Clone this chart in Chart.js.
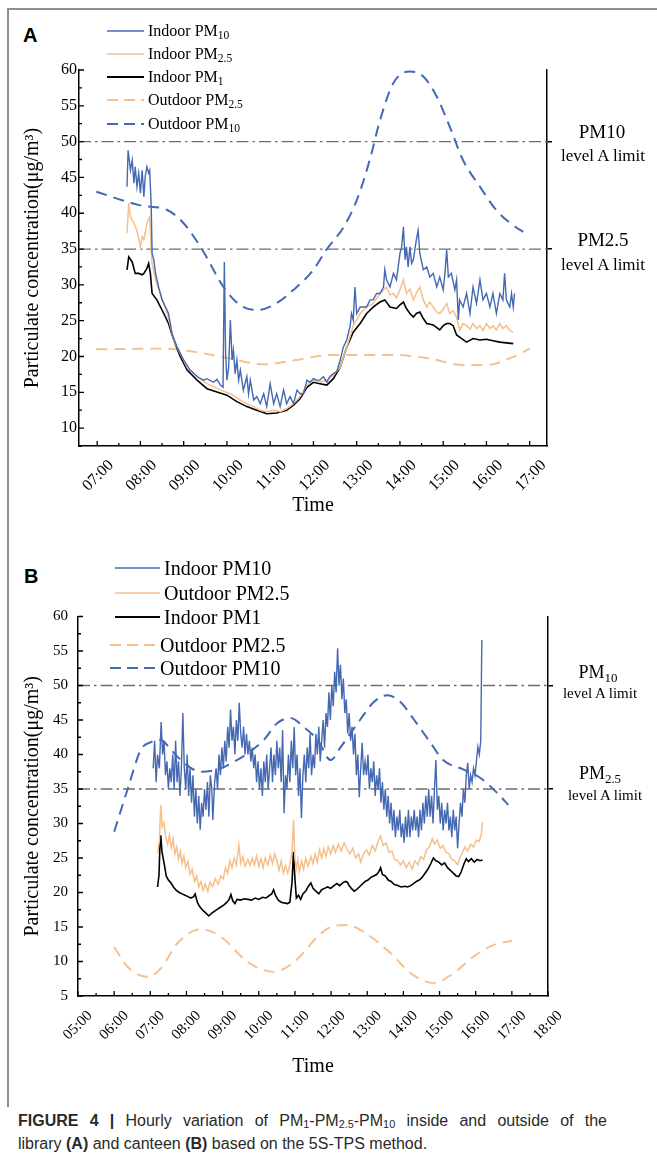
<!DOCTYPE html>
<html>
<head>
<meta charset="utf-8">
<script src="https://cdn.jsdelivr.net/npm/chart.js@4.4.1/dist/chart.umd.min.js"></script>
<style>
  body { margin: 0; background: #fff; }
  #page { position: relative; width: 657px; height: 1161px; overflow: hidden; font-family: 'Liberation Serif', 'Times New Roman', serif; color: #000; }
  .frame { position: absolute; left: 7px; top: 8px; width: 700px; height: 1097px; border-left: 2px solid #8e8e8e; border-top: 2px solid #8e8e8e; }
  .wrap { position: absolute; left: 0; width: 657px; }
  .panel { position: absolute; font: bold 20px 'Liberation Sans', Arial, sans-serif; line-height: 20px; }
  .lrow { position: absolute; display: flex; align-items: center; white-space: nowrap; line-height: 1; }
  .lrow svg { flex: none; }
  .side { position: absolute; width: 120px; text-align: center; white-space: nowrap; line-height: 1; }
  sub { font-size: 0.72em; vertical-align: -0.28em; line-height: 0; }
  .caption { position: absolute; left: 18px; width: 589px; font-family: 'Liberation Sans Narrow', 'Liberation Sans', Arial, sans-serif; font-size: 16px; line-height: 23px; color: #2a2a2a; white-space: nowrap; }
  .caption.l1 { top: 1109px; text-align: justify; text-align-last: justify; }
  .caption.l2 { top: 1132px; }
  .caption sub { font-size: 0.68em; vertical-align: -0.2em; }
</style>
</head>
<body>
<div id="page">
  <div class="frame"></div>
  <div class="panel" style="left:23px; top:25px;">A</div>
  <div class="panel" style="left:24px; top:566px;">B</div>
  <div class="wrap" style="top:0; height:530px;"><canvas id="chartA"></canvas></div>
  <div class="wrap" style="top:530px; height:560px;"><canvas id="chartB"></canvas></div>
  <div id="legendA"></div>
  <div id="legendB"></div>
  <div class="side" style="left:542px; top:122px; font-size:19px;">PM10</div>
  <div class="side" style="left:543px; top:147px; font-size:17px;">level A limit</div>
  <div class="side" style="left:543px; top:230px; font-size:19px;">PM2.5</div>
  <div class="side" style="left:543px; top:256px; font-size:17px;">level A limit</div>
  <div class="side" style="left:538px; top:663px; font-size:18px;">PM<sub>10</sub></div>
  <div class="side" style="left:540px; top:686px; font-size:15px;">level A limit</div>
  <div class="side" style="left:540px; top:764px; font-size:18px;">PM<sub>2.5</sub></div>
  <div class="side" style="left:545px; top:788px; font-size:15px;">level A limit</div>
  <div class="caption l1"><b>FIGURE 4 |</b> Hourly variation of PM<sub>1</sub>-PM<sub>2.5</sub>-PM<sub>10</sub> inside and outside of the</div>
  <div class="caption l2">library <b>(A)</b> and canteen <b>(B)</b> based on the 5S-TPS method.</div>
</div>
<script>
// ---- panel A (library) : [hour, µg/m3] ----
const indoorPM10A = [[7.69,43.7],[7.715,48.8],[7.77,46.0],[7.81,47.4],[7.85,44.2],[7.88,46.5],[7.92,43.7],[7.96,45.6],[8.00,42.8],[8.04,46.0],[8.08,42.3],[8.11,45.1],[8.15,46.5],[8.19,45.6],[8.215,46.0],[8.25,40.9],[8.27,34.4],[8.31,33.5],[8.35,31.6],[8.42,29.7],[8.50,27.9],[8.58,26.9],[8.65,26.0],[8.73,23.2],[8.85,21.3],[9.00,19.5],[9.15,18.1],[9.31,17.2],[9.46,16.7],[9.54,16.9],[9.69,16.4],[9.77,16.8],[9.85,16.0],[9.91,15.7],[9.94,33.2],[9.97,20.4],[10.00,16.7],[10.04,18.5],[10.08,25.1],[10.12,19.5],[10.15,20.9],[10.19,17.6],[10.23,19.5],[10.27,16.7],[10.31,18.1],[10.38,15.3],[10.46,17.2],[10.50,14.8],[10.54,16.7],[10.62,13.9],[10.69,14.4],[10.77,13.4],[10.85,14.8],[10.92,13.0],[11.00,16.2],[11.08,13.4],[11.15,14.8],[11.23,13.0],[11.31,15.3],[11.38,13.4],[11.46,14.4],[11.54,13.4],[11.62,15.3],[11.69,14.8],[11.77,14.8],[11.85,16.7],[11.92,16.4],[12.00,16.9],[12.08,16.7],[12.15,16.7],[12.23,17.2],[12.31,16.4],[12.38,17.2],[12.46,17.6],[12.54,17.9],[12.62,19.5],[12.69,21.3],[12.77,22.3],[12.85,24.3],[12.88,26.0],[12.92,25.1],[12.96,29.7],[13.00,26.0],[13.08,26.9],[13.15,26.9],[13.23,26.9],[13.31,27.9],[13.38,27.9],[13.46,28.8],[13.54,28.8],[13.62,29.7],[13.65,32.1],[13.69,30.7],[13.77,29.7],[13.85,31.6],[13.92,30.7],[13.96,32.5],[14.00,34.4],[14.04,35.3],[14.08,38.1],[14.12,33.5],[14.15,35.3],[14.19,32.5],[14.23,35.3],[14.27,33.0],[14.31,33.5],[14.38,36.3],[14.42,37.6],[14.46,34.4],[14.54,32.1],[14.62,32.5],[14.69,31.1],[14.77,31.6],[14.85,29.7],[14.92,31.1],[15.00,29.3],[15.04,31.6],[15.08,34.9],[15.12,31.1],[15.19,31.6],[15.27,29.3],[15.31,30.7],[15.35,25.1],[15.38,27.9],[15.46,26.9],[15.54,28.8],[15.62,26.0],[15.69,29.7],[15.77,27.4],[15.85,30.7],[15.92,27.9],[16.00,28.8],[16.08,26.9],[16.15,28.8],[16.23,26.0],[16.31,28.8],[16.38,27.9],[16.42,31.6],[16.46,27.9],[16.54,26.9],[16.58,28.8],[16.62,26.9],[16.65,28.8]];
const indoorPM25A = [[7.69,37.2],[7.73,41.4],[7.77,39.5],[7.85,38.6],[7.92,37.6],[8.00,35.3],[8.04,36.7],[8.08,36.3],[8.15,38.6],[8.215,39.5],[8.25,34.9],[8.27,33.0],[8.35,30.7],[8.46,28.8],[8.62,26.0],[8.77,22.3],[8.92,20.4],[9.08,18.5],[9.31,17.2],[9.54,16.2],[9.85,15.3],[10.08,14.8],[10.31,13.9],[10.46,13.4],[10.62,13.0],[10.77,12.5],[10.92,12.3],[11.08,12.5],[11.23,12.3],[11.38,12.7],[11.54,13.4],[11.69,14.4],[11.85,16.0],[12.00,16.7],[12.15,16.4],[12.31,16.7],[12.46,17.4],[12.62,18.5],[12.77,21.3],[12.92,24.3],[13.08,26.0],[13.23,26.9],[13.38,27.4],[13.54,28.8],[13.69,29.7],[13.77,28.6],[13.85,28.8],[13.92,28.2],[14.00,29.3],[14.08,30.7],[14.15,28.8],[14.23,29.4],[14.31,27.9],[14.38,28.8],[14.46,29.7],[14.54,27.9],[14.62,26.9],[14.69,27.6],[14.77,26.9],[14.85,26.2],[14.92,26.0],[15.00,26.6],[15.08,27.4],[15.15,26.0],[15.23,26.4],[15.31,25.5],[15.38,23.7],[15.46,24.6],[15.54,24.3],[15.62,23.8],[15.69,24.6],[15.77,23.9],[15.85,24.3],[15.92,23.6],[16.00,24.6],[16.08,23.9],[16.15,24.3],[16.23,23.7],[16.31,24.6],[16.38,23.9],[16.46,24.3],[16.54,23.6],[16.62,23.4]];
const indoorPM1A = [[7.69,32.1],[7.73,33.9],[7.81,33.2],[7.88,31.6],[7.96,31.6],[8.04,31.4],[8.08,31.6],[8.15,32.3],[8.19,33.0],[8.23,31.6],[8.27,28.8],[8.38,27.9],[8.54,26.0],[8.65,24.6],[8.77,22.3],[8.92,20.0],[9.08,18.1],[9.31,16.7],[9.54,15.5],[9.77,15.05],[10.00,14.6],[10.23,13.7],[10.46,13.0],[10.69,12.5],[10.92,12.0],[11.15,12.1],[11.38,12.5],[11.54,13.2],[11.69,14.1],[11.85,15.7],[12.00,16.4],[12.15,16.2],[12.31,16.0],[12.46,16.9],[12.62,18.5],[12.77,21.3],[12.92,23.4],[13.08,24.6],[13.23,26.0],[13.38,26.9],[13.54,27.6],[13.65,27.9],[13.77,26.9],[13.92,26.7],[14.00,27.2],[14.08,27.6],[14.15,26.7],[14.23,26.0],[14.31,25.5],[14.38,26.0],[14.46,26.2],[14.54,25.3],[14.62,24.6],[14.77,24.4],[14.92,23.7],[15.00,24.3],[15.08,24.6],[15.15,24.6],[15.23,24.3],[15.31,23.0],[15.38,22.7],[15.54,22.0],[15.69,22.5],[15.85,22.3],[16.00,22.4],[16.15,22.2],[16.31,22.0],[16.46,21.9],[16.62,21.8]];
const outdoorPM25A = [[6.98,21.0],[8.54,21.1],[9.3,20.6],[10.08,19.7],[10.85,18.9],[11.6,19.5],[12.38,20.2],[13.15,20.2],[13.9,20.2],[14.7,19.7],[15.46,18.8],[16.0,18.8],[16.6,19.9],[17.0,21.1]];
const outdoorPM10A = [[6.98,43.0],[8.0,41.1],[8.62,40.45],[9.0,38.6],[9.46,34.6],[9.92,29.7],[10.3,27.2],[10.7,26.5],[11.08,27.2],[11.54,29.3],[12.0,32.1],[12.3,34.9],[12.7,38.1],[13.0,41.8],[13.3,47.4],[13.54,53.0],[13.85,58.2],[14.23,59.8],[14.54,59.1],[14.85,56.3],[15.15,52.1],[15.46,47.4],[15.85,43.7],[16.23,40.4],[16.6,38.4],[16.85,37.4]];
const xLabelsA = ['07:00','08:00','09:00','10:00','11:00','12:00','13:00','14:00','15:00','16:00','17:00'];
const yTicksA = [10, 15, 20, 25, 30, 35, 40, 45, 50, 55, 60];

// ---- panel B (canteen) ----
const indoorPM10B = [[7.08,38],[7.12,42],[7.16,36],[7.2,40],[7.25,38],[7.3,44.7],[7.34,40],[7.38,42],[7.42,37],[7.46,39],[7.5,35],[7.54,38],[7.58,36],[7.62,40],[7.66,35],[7.7,42],[7.74,36],[7.78,39],[7.82,34],[7.86,38],[7.9,46],[7.94,38],[7.98,35],[8.02,40],[8.06,34],[8.1,38],[8.14,33],[8.18,37],[8.22,31],[8.26,35],[8.3,30],[8.34,34],[8.38,29.1],[8.42,33],[8.46,31],[8.5,35],[8.54,32],[8.58,36],[8.62,31],[8.66,37],[8.7,35],[8.73,30.5],[8.78,36],[8.82,38],[8.86,35],[8.9,40],[8.94,37],[8.98,41],[9.02,38],[9.06,42],[9.1,39],[9.14,44],[9.18,41],[9.22,46.5],[9.26,42],[9.3,44],[9.34,40],[9.38,45],[9.42,42],[9.46,47.5],[9.5,43],[9.54,41],[9.58,44],[9.62,40],[9.66,43],[9.7,40],[9.74,42],[9.78,39],[9.82,41],[9.86,38],[9.9,40],[9.94,36],[9.98,39],[10.02,35],[10.06,38],[10.1,34],[10.14,39],[10.18,36],[10.22,40],[10.26,35],[10.3,38],[10.34,41],[10.38,36],[10.42,40],[10.46,37],[10.5,42],[10.54,38],[10.58,41],[10.62,36],[10.66,43.5],[10.7,31.5],[10.74,37],[10.78,35],[10.82,40],[10.86,36],[10.9,42],[10.94,38],[10.98,44],[11.02,37],[11.06,40],[11.1,34],[11.14,38],[11.18,30.8],[11.22,37],[11.26,40],[11.3,36],[11.34,41],[11.38,38],[11.42,43],[11.46,37],[11.5,40],[11.54,38],[11.58,43],[11.62,40],[11.66,44],[11.7,39],[11.74,42],[11.78,45],[11.82,41],[11.86,46],[11.9,44],[11.94,49],[11.98,45],[12.02,50],[12.06,47],[12.1,52],[12.14,49],[12.18,55.4],[12.22,50],[12.26,53],[12.3,48],[12.34,51],[12.38,46],[12.42,48],[12.46,43],[12.5,46],[12.54,42],[12.58,44],[12.62,40],[12.66,43],[12.7,37],[12.74,40],[12.78,33.8],[12.82,38],[12.86,41.7],[12.9,37],[12.94,39],[12.98,37],[13.02,40],[13.06,35],[13.1,38],[13.14,36],[13.18,39],[13.22,34],[13.26,37],[13.3,35],[13.34,38],[13.38,33],[13.42,36],[13.46,32],[13.5,35],[13.54,31],[13.58,34],[13.62,30],[13.66,33],[13.7,29],[13.74,32],[13.78,28],[13.82,31],[13.86,29],[13.9,32],[13.94,28],[13.98,30],[14.02,27.2],[14.06,31],[14.1,28],[14.14,32],[14.18,28],[14.22,31],[14.26,29],[14.3,32],[14.34,29],[14.38,31],[14.42,28],[14.46,32],[14.5,29],[14.54,33],[14.58,30],[14.62,34],[14.66,31],[14.7,35],[14.74,31],[14.78,34],[14.82,30],[14.86,35],[14.9,39.2],[14.94,32],[14.98,34],[15.02,30],[15.06,33],[15.1,29],[15.14,32],[15.18,30],[15.22,33],[15.26,29],[15.3,31],[15.34,28],[15.38,32],[15.42,29],[15.46,31],[15.5,26.4],[15.54,30],[15.58,33],[15.62,31],[15.66,35],[15.7,33],[15.74,37],[15.78,38.8],[15.82,35],[15.86,37],[15.9,36],[15.94,38],[15.98,37],[16.02,39],[16.06,41.1],[16.1,40],[16.14,42],[16.17,56.6]];
const indoorPM25B = [[7.2,25.7],[7.25,27.5],[7.29,32.7],[7.33,29.5],[7.38,30.1],[7.43,28.0],[7.48,27.0],[7.53,28.3],[7.58,26.5],[7.63,27.8],[7.68,25.6],[7.73,26.6],[7.78,24.8],[7.83,26.0],[7.88,24.2],[7.93,25.3],[7.98,23.6],[8.04,24.5],[8.1,22.6],[8.16,23.4],[8.22,21.6],[8.28,22.4],[8.34,20.8],[8.4,21.6],[8.46,20.3],[8.52,21.2],[8.59,20.2],[8.65,21.5],[8.72,20.8],[8.8,22.0],[8.88,21.2],[8.95,22.4],[9.02,22.0],[9.08,23.6],[9.14,22.8],[9.2,24.6],[9.26,23.6],[9.32,25.0],[9.38,24.0],[9.45,26.9],[9.5,24.2],[9.56,25.2],[9.62,23.8],[9.7,24.8],[9.76,23.9],[9.82,25.0],[9.88,24.0],[9.94,25.3],[10.0,23.8],[10.06,24.9],[10.12,23.6],[10.18,25.0],[10.25,24.0],[10.32,25.4],[10.38,24.2],[10.44,25.6],[10.5,24.6],[10.56,23.2],[10.62,24.6],[10.68,22.8],[10.74,23.9],[10.8,22.8],[10.86,24.0],[10.92,26.0],[10.96,30.5],[11.0,25.0],[11.04,23.5],[11.08,24.8],[11.12,23.0],[11.18,24.6],[11.24,23.4],[11.3,25.0],[11.36,23.8],[11.44,25.2],[11.5,24.2],[11.56,25.6],[11.62,24.4],[11.68,26.2],[11.74,25.0],[11.8,26.4],[11.86,25.2],[11.92,26.6],[11.99,25.6],[12.06,26.8],[12.12,25.8],[12.2,27.0],[12.28,26.0],[12.36,27.2],[12.45,26.2],[12.52,25.6],[12.6,26.4],[12.68,25.0],[12.76,25.6],[12.82,24.4],[12.9,25.6],[12.98,26.2],[13.06,25.4],[13.14,26.8],[13.22,26.0],[13.3,27.4],[13.37,28.2],[13.44,26.8],[13.52,27.2],[13.6,25.8],[13.68,26.0],[13.76,24.8],[13.84,24.6],[13.92,24.0],[14.0,24.6],[14.08,23.6],[14.16,24.4],[14.24,23.4],[14.32,24.6],[14.4,24.0],[14.48,25.2],[14.56,24.8],[14.64,26.2],[14.72,26.6],[14.8,27.8],[14.86,27.0],[14.94,27.6],[15.02,26.4],[15.1,26.8],[15.18,25.8],[15.26,25.6],[15.34,24.8],[15.42,24.6],[15.5,24.0],[15.56,25.0],[15.62,25.6],[15.7,26.6],[15.78,26.0],[15.86,27.0],[15.94,26.6],[16.02,27.6],[16.1,27.4],[16.15,28.4],[16.19,30.2]];
const indoorPM1B = [[7.2,20.8],[7.24,22.5],[7.27,27.5],[7.29,28.3],[7.32,26.0],[7.38,24.3],[7.44,22.4],[7.5,21.8],[7.57,21.4],[7.64,20.8],[7.72,20.3],[7.8,20.0],[7.88,19.8],[7.96,19.6],[8.04,19.4],[8.12,19.2],[8.2,19.4],[8.24,19.8],[8.3,18.6],[8.36,18.0],[8.42,17.6],[8.5,17.2],[8.56,16.9],[8.62,16.6],[8.7,17.0],[8.78,17.3],[8.86,17.6],[8.95,17.9],[9.04,18.2],[9.12,18.6],[9.18,19.0],[9.23,19.7],[9.28,18.8],[9.34,18.4],[9.4,19.0],[9.5,18.9],[9.6,19.1],[9.7,19.0],[9.8,18.9],[9.9,19.2],[10.0,19.0],[10.1,19.3],[10.2,19.2],[10.3,19.6],[10.36,19.8],[10.41,20.4],[10.46,19.6],[10.54,18.9],[10.62,18.6],[10.7,18.5],[10.8,18.4],[10.86,18.6],[10.92,21.5],[10.96,25.9],[11.0,22.0],[11.04,19.2],[11.1,19.6],[11.16,19.0],[11.22,19.8],[11.3,20.2],[11.36,20.8],[11.44,21.4],[11.5,20.6],[11.58,20.2],[11.66,19.8],[11.74,20.4],[11.82,20.6],[11.9,20.8],[11.99,20.6],[12.08,21.0],[12.16,21.3],[12.24,21.0],[12.32,21.4],[12.4,21.6],[12.45,21.5],[12.5,21.0],[12.56,20.6],[12.64,20.2],[12.7,20.4],[12.78,20.8],[12.86,21.2],[12.94,21.6],[13.02,21.8],[13.1,22.2],[13.18,22.4],[13.26,22.6],[13.32,23.0],[13.37,23.6],[13.42,22.6],[13.5,22.4],[13.58,21.8],[13.66,21.6],[13.74,21.2],[13.84,21.0],[13.94,20.8],[14.04,20.9],[14.12,20.8],[14.2,21.0],[14.28,21.3],[14.36,21.6],[14.44,21.8],[14.52,22.2],[14.6,22.8],[14.68,23.4],[14.76,24.2],[14.83,25.0],[14.9,24.6],[14.98,24.4],[15.06,24.0],[15.14,24.3],[15.22,23.6],[15.3,23.2],[15.38,22.8],[15.46,22.4],[15.53,22.3],[15.6,23.0],[15.68,24.2],[15.74,24.9],[15.8,24.5],[15.88,24.9],[15.96,24.4],[16.04,24.8],[16.12,24.6],[16.19,24.7]];
const outdoorPM25B = [[6.0,12.1],[6.38,9.2],[6.93,7.75],[7.29,9.0],[7.76,12.7],[8.4,14.7],[8.95,13.6],[9.7,9.9],[10.41,8.5],[10.97,9.9],[11.63,13.6],[11.99,15.0],[12.45,15.3],[12.9,14.3],[13.65,11.2],[14.2,8.3],[14.83,6.9],[15.39,8.3],[15.94,10.7],[16.5,12.4],[17.0,13.0]];
const outdoorPM10B = [[6.0,28.8],[6.38,35.1],[6.74,40.7],[7.02,41.8],[7.29,42.1],[7.6,40.5],[8.0,38.5],[8.4,37.5],[8.9,37.9],[9.3,38.9],[9.7,40.2],[10.14,42.1],[10.5,44.5],[10.88,45.3],[11.24,44.0],[11.63,42.1],[11.99,39.2],[12.27,41.1],[12.8,45.0],[13.18,47.6],[13.56,48.6],[13.92,47.6],[14.3,45.0],[14.75,41.7],[15.1,39.2],[15.67,37.8],[16.13,36.6],[16.6,34.4],[16.9,32.7]];
const xLabelsB = ['05:00','06:00','07:00','08:00','09:00','10:00','11:00','12:00','13:00','14:00','15:00','16:00','17:00','18:00'];
const yTicksB = [5, 10, 15, 20, 25, 30, 35, 40, 45, 50, 55, 60];

const limits = [50, 35];

const SERIF = "'Liberation Serif', 'Times New Roman', serif";
const BLUE = '#4468b2';
const PEACH = '#f6bf8c';

const pts = a => a.map(p => ({x: p[0], y: p[1]}));

// inward tick marks, like the original plot
const innerTicks = {
  id: 'innerTicks',
  afterDraw(chart) {
    const {ctx, chartArea: a, scales: {x, y}} = chart;
    ctx.save();
    ctx.strokeStyle = '#000';
    ctx.lineWidth = 1.3;
    ctx.beginPath();
    for (let v = Math.ceil(x.min * 2) / 2; v <= x.max + 1e-6; v += 0.5) {
      const px = x.getPixelForValue(v);
      const len = Number.isInteger(v) ? 5 : 3;
      ctx.moveTo(px, a.bottom);
      ctx.lineTo(px, a.bottom - len);
    }
    for (let v = Math.ceil(y.min / 2.5) * 2.5; v <= y.max + 1e-6; v += 2.5) {
      const py = y.getPixelForValue(v);
      const len = v % 5 === 0 ? 5 : 3;
      ctx.moveTo(a.left, py);
      ctx.lineTo(a.left + len, py);
    }
    ctx.stroke();
    ctx.restore();
  }
};

function fixBox(size, horizontal) {
  return s => {
    if (horizontal) s.height = size; else s.width = size;
    s.paddingLeft = s.paddingRight = s.paddingTop = s.paddingBottom = 0;
  };
}

function makeChart(id, c) {
  const line = (label, data, color, width, dash, smooth) => ({
    label, data: pts(data), borderColor: color, borderWidth: width,
    borderDash: dash || [], pointRadius: 0, fill: false,
    tension: smooth ? 0.4 : 0, cubicInterpolationMode: smooth ? 'monotone' : 'default'
  });
  const datasets = [
    line(c.labels[0], c.pm10, BLUE, 1.4),
    line(c.labels[1], c.pm25, PEACH, 1.5),
    line(c.labels[2], c.pm1, '#000', 1.6),
    line(c.labels[3], c.out25, PEACH, 1.9, [11, 7], true),
    line(c.labels[4], c.out10, BLUE, 2, [11, 7], true)
  ];
  limits.forEach(v => datasets.push({
    label: 'limit ' + v, data: [{x: c.xMin, y: v}, {x: c.xMax, y: v}],
    borderColor: '#6e6e6e', borderWidth: 1.3, borderDash: [12, 4, 2.5, 4], pointRadius: 0
  }));
  return new Chart(document.getElementById(id), {
    type: 'line',
    data: {datasets},
    options: {
      responsive: true,
      maintainAspectRatio: false,
      animation: false,
      layout: {padding: {left: 0, top: c.top, right: c.right, bottom: 0}},
      plugins: {legend: {display: false}, tooltip: {enabled: false}},
      scales: {
        x: {
          type: 'linear', min: c.xMin, max: c.xMax,
          afterFit: fixBox(c.xh, true),
          afterBuildTicks: s => { s.ticks = c.xLabels.map(l => ({value: parseInt(l, 10)})); },
          grid: {display: false, drawTicks: false},
          border: {color: '#000', width: 1.5},
          ticks: {autoSkip: false, minRotation: 45, maxRotation: 45, labelOffset: c.labelOffset, padding: c.xPad,
                  color: '#000', font: {family: SERIF, size: c.xFont}, callback: (v, i) => c.xLabels[i]},
          title: {display: true, text: 'Time', color: '#000', font: {family: SERIF, size: 20}, padding: {top: 0, bottom: c.timePad}}
        },
        y: {
          min: c.yMin, max: 60,
          afterFit: fixBox(c.left, false),
          afterBuildTicks: s => { s.ticks = c.yTicks.map(v => ({value: v})); },
          grid: {display: false, drawTicks: false},
          border: {color: '#000', width: 1.5},
          ticks: {padding: c.yPad, color: '#000', font: {family: SERIF, size: c.yFont}},
          title: {display: true, text: 'Particulate concentration(μg/m³)', color: '#000',
                  font: {family: SERIF, size: 20}, padding: {top: 21, bottom: 0}}
        },
        y2: {
          position: 'right', min: c.yMin, max: 60,
          afterFit: fixBox(0, false),
          afterBuildTicks: s => { s.ticks = limits.map(v => ({value: v})); },
          grid: {display: true, drawOnChartArea: false, drawTicks: true, tickLength: 5, color: '#000', lineWidth: 1.5},
          border: {color: '#000', width: 1.5},
          ticks: {display: false}
        }
      }
    },
    plugins: [innerTicks]
  });
}

makeChart('chartA', {
  labels: ['Indoor PM10', 'Indoor PM2.5', 'Indoor PM1', 'Outdoor PM2.5', 'Outdoor PM10'],
  pm10: indoorPM10A, pm25: indoorPM25A, pm1: indoorPM1A, out25: outdoorPM25A, out10: outdoorPM10A,
  xLabels: xLabelsA, yTicks: yTicksA, xMin: 6.58, xMax: 17.4, yMin: 7.5,
  top: 70, right: 110, left: 79, xh: 84, labelOffset: 14, xPad: 10, xFont: 16, yPad: 2, yFont: 16, timePad: 12
});
makeChart('chartB', {
  labels: ['Indoor PM10', 'Outdoor PM2.5', 'Indoor PM1', 'Outdoor PM2.5', 'Outdoor PM10'],
  pm10: indoorPM10B, pm25: indoorPM25B, pm1: indoorPM1B, out25: outdoorPM25B, out10: outdoorPM10B,
  xLabels: xLabelsB, yTicks: yTicksB, xMin: 5, xMax: 18, yMin: 5,
  top: 86.5, right: 109, left: 78, xh: 94, labelOffset: 12, xPad: 11, xFont: 15, yPad: 10, yFont: 15, timePad: 11
});

// html legends (they need sub-scripts)
function buildLegend(el, items, o) {
  items.forEach((it, i) => {
    const x0 = it.dash ? o.dashX : o.solidX;
    const w = (it.dash ? o.dashText : o.solidText) - x0;
    const row = document.createElement('div');
    row.className = 'lrow';
    row.style.left = x0 + 'px';
    row.style.top = (o.rows[i] - o.h / 2) + 'px';
    row.style.height = o.h + 'px';
    row.style.fontSize = o.size + 'px';
    const dash = it.dash ? ` stroke-dasharray="${it.dash.join(' ')}"` : '';
    row.innerHTML = `<svg width="${w}" height="${o.h}"><line x1="0" y1="${o.h / 2}" x2="${w - 4}" y2="${o.h / 2}" stroke="${it.color}" stroke-width="${it.width}"${dash}/></svg><span>${it.html}</span>`;
    el.appendChild(row);
  });
}
buildLegend(document.getElementById('legendA'), [
  {html: 'Indoor PM<sub>10</sub>', color: BLUE, width: 1.6},
  {html: 'Indoor PM<sub>2.5</sub>', color: PEACH, width: 1.6},
  {html: 'Indoor PM<sub>1</sub>', color: '#000', width: 1.8},
  {html: 'Outdoor PM<sub>2.5</sub>', color: PEACH, width: 1.8, dash: [11, 6]},
  {html: 'Outdoor PM<sub>10</sub>', color: BLUE, width: 2, dash: [11, 6]}
], {solidX: 107, solidText: 148, dashX: 107, dashText: 148, rows: [31, 54, 77, 100, 124], h: 20, size: 16});
buildLegend(document.getElementById('legendB'), [
  {html: 'Indoor PM10', color: BLUE, width: 1.6},
  {html: 'Outdoor PM2.5', color: PEACH, width: 1.6},
  {html: 'Indoor PM1', color: '#000', width: 1.8},
  {html: 'Outdoor PM2.5', color: PEACH, width: 1.8, dash: [11, 6]},
  {html: 'Outdoor PM10', color: BLUE, width: 2, dash: [11, 6]}
], {solidX: 115, solidText: 164, dashX: 110, dashText: 160, rows: [568, 593, 617, 645, 668], h: 24, size: 20});
</script>
</body>
</html>
